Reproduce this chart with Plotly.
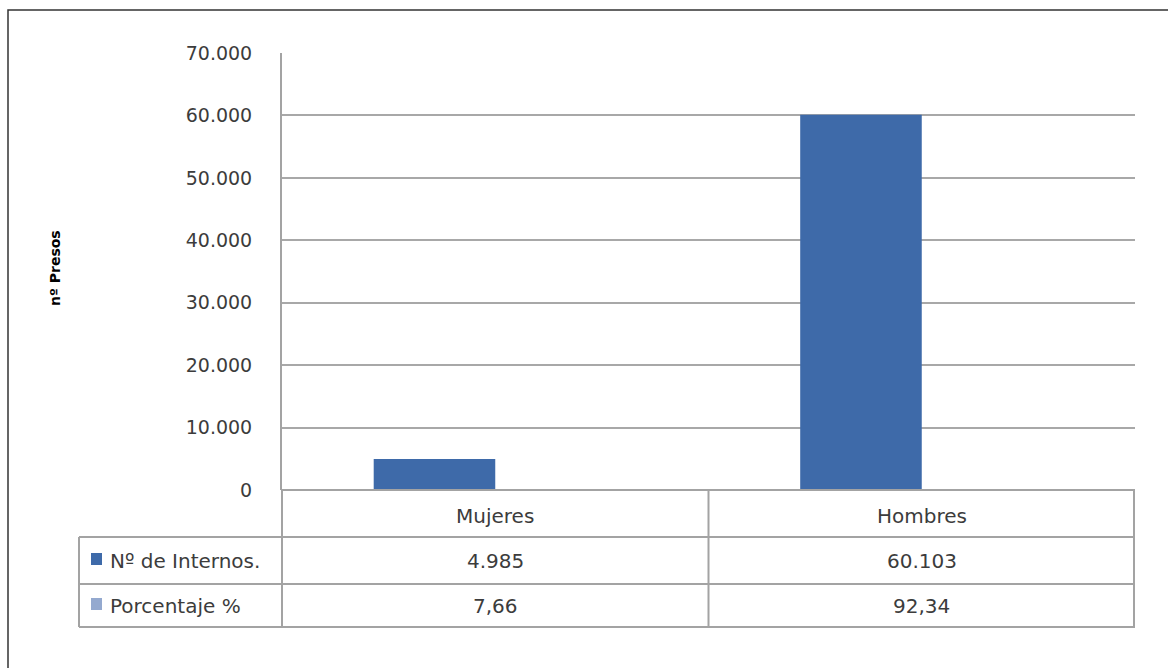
import plotly.graph_objects as go

# ---- data ----
categories = ["Mujeres", "Hombres"]
internos = [4985, 60103]
porcentaje = [7.66, 92.34]
internos_txt = ["4.985", "60.103"]
porcentaje_txt = ["7,66", "92,34"]
series_names = ["Nº de Internos.", "Porcentaje %"]
y_title = "nº Presos"

W, H = 1168, 668
L, R, T, B = 282, 1135, 53, 490  # plot area in pixels

def px(x):
    return (x - L) / (R - L)

def py(y):
    return (B - y) / (B - T)

bar_color = "#3e6aa9"
bar2_color = "#94a9cf"
text_color = "#3c3c3c"
line_gray = "#a3a3a3"
font_fam = "DejaVu Sans"

fig = go.Figure()
fig.add_trace(go.Bar(x=categories, y=internos, name=series_names[0],
                     marker=dict(color=bar_color, line=dict(width=0))))
fig.add_trace(go.Bar(x=categories, y=porcentaje, name=series_names[1],
                     marker=dict(color=bar2_color, line=dict(width=0))))

shapes = []
def hline(y, x0, x1, color=line_gray, w=2):
    shapes.append(dict(type="line", xref="paper", yref="paper",
                       x0=px(x0), x1=px(x1), y0=py(y), y1=py(y),
                       line=dict(color=color, width=w)))
def vline(x, y0, y1, color=line_gray, w=2):
    shapes.append(dict(type="line", xref="paper", yref="paper",
                       x0=px(x), x1=px(x), y0=py(y0), y1=py(y1),
                       line=dict(color=color, width=w)))

# data table grid
hline(490, 282, 1135)
hline(537, 79, 1135)
hline(584, 79, 1135)
hline(627, 79, 1135)
vline(79, 537, 627)
vline(282, 490, 627)
vline(1134, 490, 627)
shapes.append(dict(type="line", xref="x", yref="paper", x0=0.5, x1=0.5,
                   y0=py(490), y1=py(627), line=dict(color=line_gray, width=2)))

# legend keys
for (y0, y1), col in zip([(553, 565), (598, 610)], [bar_color, bar2_color]):
    shapes.append(dict(type="rect", xref="paper", yref="paper",
                       x0=px(91), x1=px(102), y0=py(y0), y1=py(y1),
                       fillcolor=col, line=dict(width=0)))

# outer frame (extends beyond right/bottom edges)
shapes.append(dict(type="rect", xref="paper", yref="paper",
                   x0=px(8), x1=px(1180), y0=py(10), y1=py(690),
                   fillcolor="rgba(0,0,0,0)", line=dict(color="#333333", width=1.5)))

annotations = []
tfont = dict(family=font_fam, size=20, color=text_color)
for i, c in enumerate(categories):
    annotations.append(dict(xref="x", yref="paper", x=c, y=py(516), text=c,
                            showarrow=False, font=tfont, xanchor="center", yanchor="middle"))
    annotations.append(dict(xref="x", yref="paper", x=c, y=py(561), text=internos_txt[i],
                            showarrow=False, font=tfont, xanchor="center", yanchor="middle"))
    annotations.append(dict(xref="x", yref="paper", x=c, y=py(606), text=porcentaje_txt[i],
                            showarrow=False, font=tfont, xanchor="center", yanchor="middle"))
for name, yy in zip(series_names, [561, 606]):
    annotations.append(dict(xref="paper", yref="paper", x=px(108), y=py(yy), text=name,
                            showarrow=False, font=tfont, xanchor="left", yanchor="middle"))
annotations.append(dict(xref="paper", yref="paper", x=px(55), y=py(268), text=y_title,
                        textangle=-90, showarrow=False,
                        font=dict(family=font_fam, size=14, color="#000000", weight="bold"),
                        xanchor="center", yanchor="middle"))

fig.update_layout(
    width=W, height=H,
    margin=dict(l=L, r=W - R, t=T, b=H - B, pad=0),
    paper_bgcolor="white", plot_bgcolor="white",
    barmode="group", bargap=0.43, bargroupgap=0,
    showlegend=False,
    separators=",.",
    font=dict(family=font_fam, color=text_color),
    shapes=shapes, annotations=annotations,
    xaxis=dict(type="category", range=[-0.5, 1.5], showticklabels=False,
               showgrid=False, showline=False, zeroline=False, fixedrange=True),
    yaxis=dict(range=[0, 70000], dtick=10000, tickformat=",d",
               showgrid=True, gridcolor="#a8a8a8", gridwidth=1.5,
               showline=True, linecolor=line_gray, linewidth=2,
               zeroline=False, ticks="", ticklabelstandoff=24,
               tickfont=dict(family=font_fam, size=19, color=text_color)),
)

fig.write_html("out.html")
